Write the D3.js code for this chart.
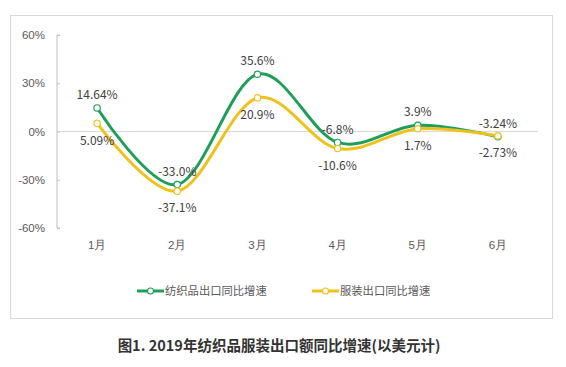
<!DOCTYPE html>
<html><head><meta charset="utf-8">
<script src="https://cdn.jsdelivr.net/npm/d3@7/dist/d3.min.js"></script>
<style>body{margin:0;background:#fff;}svg{display:block;font-family:"Microsoft YaHei","Noto Sans CJK SC","Noto Sans",sans-serif;}</style>
</head><body>
<script>
const months = ["1月","2月","3月","4月","5月","6月"];
const textile = [14.64, -33.0, 35.6, -6.8, 3.9, -3.24];
const apparel = [5.09, -37.1, 20.9, -10.6, 1.7, -2.73];
const textileLabels = ["14.64%","-33.0%","35.6%","-6.8%","3.9%","-3.24%"];
const apparelLabels = ["5.09%","-37.1%","20.9%","-10.6%","1.7%","-2.73%"];
const yTicks = [-60, -30, 0, 30, 60];
const seriesNames = ["纺织品出口同比增速","服装出口同比增速"];
const caption = "图1. 2019年纺织品服装出口额同比增速(以美元计)";

const W = 566, H = 367;
const green = "#1f9e5b", yellow = "#eec21c";
const svg = d3.select("body").append("svg").attr("width", W).attr("height", H);

svg.append("rect").attr("x", 10.5).attr("y", 15.5).attr("width", 542).attr("height", 303)
  .attr("fill", "#fff").attr("stroke", "#d9d9d9");

const x = d3.scaleBand().domain(months).range([57, 538]);
const y = d3.scaleLinear().domain([-60, 60]).range([228, 35]);
const cx = d => x(d) + x.bandwidth() / 2;

// y axis
const yAxis = d3.axisLeft(y).tickValues(yTicks).tickSize(-3).tickPadding(12).tickFormat(d => d + "%");
const ga = svg.append("g").attr("transform", "translate(57,0)").call(yAxis);
ga.select(".domain").attr("stroke", "#bfbfbf").attr("d", `M3,${y(60)}H0V${y(-60)}H3`);
ga.selectAll(".tick line").attr("stroke", "#bfbfbf");
ga.selectAll(".tick text").attr("fill", "#595959").style("font-size", "11.5px");

// zero line
svg.append("line").attr("x1", 57).attr("x2", 538).attr("y1", y(0)).attr("y2", y(0))
  .attr("stroke", "#d9d9d9");

// x labels
const xAxis = d3.axisBottom(x).tickSize(0).tickPadding(0);
const gx = svg.append("g").attr("transform", "translate(0,241)").call(xAxis);
gx.select(".domain").remove();
gx.selectAll(".tick text").attr("fill", "#595959").style("font-size", "11.5px");

const line = d3.line().x((d, i) => cx(months[i])).y(d => y(d)).curve(d3.curveCardinal.tension(0));

const series = [
  {vals: textile, labels: textileLabels, color: green, dy: -13},
  {vals: apparel, labels: apparelLabels, color: yellow, dy: 17}
];
series.forEach(s => {
  svg.append("path").attr("d", line(s.vals)).attr("fill", "none")
    .attr("stroke", s.color).attr("stroke-width", 3).attr("stroke-linecap", "round");
});
series.forEach(s => {
  svg.selectAll(null).data(s.vals).enter().append("circle")
    .attr("cx", (d, i) => cx(months[i])).attr("cy", d => y(d)).attr("r", 3.2)
    .attr("fill", "#fff").attr("stroke", s.color).attr("stroke-width", 1.2);
  svg.selectAll(null).data(s.vals).enter().append("text")
    .attr("x", (d, i) => cx(months[i])).attr("y", d => y(d) + s.dy)
    .attr("dy", "0.35em").attr("text-anchor", "middle")
    .attr("fill", "#404040").style("font-size", "12px")
    .text((d, i) => s.labels[i]);
});

// legend
const legend = [{x: 137, color: green, name: seriesNames[0]}, {x: 312, color: yellow, name: seriesNames[1]}];
legend.forEach(l => {
  svg.append("line").attr("x1", l.x).attr("x2", l.x + 27).attr("y1", 291).attr("y2", 291)
    .attr("stroke", l.color).attr("stroke-width", 3);
  svg.append("circle").attr("cx", l.x + 13.5).attr("cy", 291).attr("r", 3)
    .attr("fill", "#fff").attr("stroke", l.color).attr("stroke-width", 1.2);
  svg.append("text").attr("x", l.x + 28).attr("y", 291).attr("dy", "0.35em")
    .attr("fill", "#595959").style("font-size", "11.3px").text(l.name);
});

svg.append("text").attr("x", 279).attr("y", 346).attr("dy", "0.35em").attr("text-anchor", "middle")
  .attr("fill", "#333").style("font-size", "14.5px").style("font-weight", "bold").text(caption);
</script>
</body></html>
